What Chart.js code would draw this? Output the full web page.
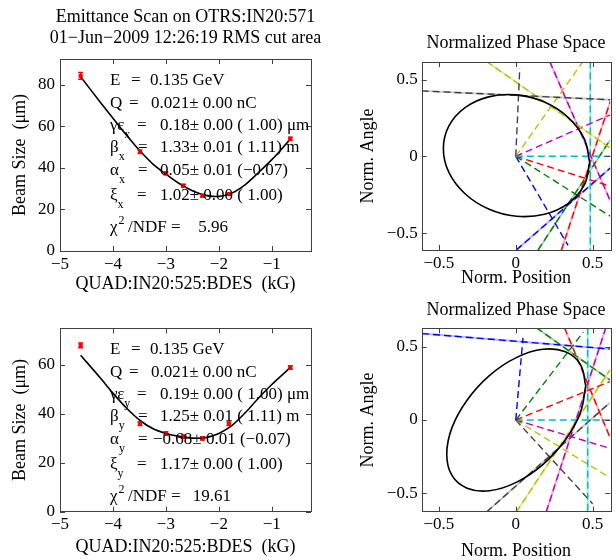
<!DOCTYPE html>
<html>
<head>
<meta charset="utf-8">
<script src="https://cdn.jsdelivr.net/npm/chart.js@4.4.0/dist/chart.umd.min.js"></script>
<style>
  html, body { margin: 0; padding: 0; background: #fff; overflow: hidden; width: 616px; height: 560px; }
  .box { position: absolute; }
</style>
</head>
<body>
<div class="box" style="left:0;top:0;width:371px;height:295px"><canvas id="scanX"></canvas></div>
<div class="box" style="left:0;top:295px;width:371px;height:265px"><canvas id="scanY"></canvas></div>
<div class="box" style="left:348px;top:0;width:336px;height:295px"><canvas id="phaseX"></canvas></div>
<div class="box" style="left:348px;top:295px;width:336px;height:267px"><canvas id="phaseY"></canvas></div>
<script>
'use strict'

var SERIF = '"Liberation Serif", "Times New Roman", serif'

// quad scan measurements
var quadVals = [-4.61, -3.49, -3.0, -2.67, -2.31, -1.81, -0.65]
var sizeX = [84.4, 47.8, 37.4, 31.4, 26.6, 27.4, 54.1]
var errX = [1.6, 0.8, 0.7, 0.7, 0.6, 0.6, 0.7]
var sizeY = [68, 36, 32, 30.7, 30, 36, 59]
var errY = [1.0, 0.7, 0.7, 0.7, 0.7, 0.7, 0.7]

// fitted curves
var fitQuad = [-4.61, -4.25, -4.0, -3.75, -3.5, -3.25, -3.0, -2.75, -2.5, -2.25, -2.0, -1.75, -1.5, -1.25, -1.0, -0.75, -0.65]
var fitX = [84, 72, 64, 56, 48.5, 42, 37, 32.5, 29, 26.8, 26.3, 28, 32, 37.8, 44, 51, 54]
var fitY = [64, 55, 48.5, 42.5, 37.5, 34, 32, 30.8, 30.1, 30.3, 32, 35.3, 40.5, 46.5, 52, 57, 59]

// normalized phase space, x plane
var ellXpos = [0.481, 0.445, 0.342, 0.187, 0.005, -0.177, -0.332, -0.435, -0.471, -0.435, -0.332, -0.177, 0.005, 0.187, 0.342, 0.445, 0.481]
var ellXang = [-0.040, 0.115, 0.252, 0.353, 0.400, 0.387, 0.316, 0.198, 0.050, -0.105, -0.242, -0.343, -0.390, -0.377, -0.306, -0.188, -0.040]
var colorsX = ['#404040', '#bfbf00', '#bf00bf', '#00bfbf', '#ff0000', '#008000', '#0000ff']
var paleX = ['#c8c8c8', '#e8e8a8', '#e8a8e8', '#a8e8e8', '#ffb4b4', '#a8d4a8', '#b4b4ff']
var rayXx = [0.026, 0.437, 0.615, 0.615, 0.615, 0.615, 0.34]
var rayXy = [0.574, 0.617, 0.27, 0, -0.195, -0.39, -0.58]
var cutXx1 = [-0.613, -0.19, 0.221, 0.485, 0.297, 0.145, 0.004]
var cutXy1 = [0.426, 0.617, 0.617, 0.617, -0.61, -0.61, -0.61]
var cutXx2 = [0.615, 0.615, 0.615, 0.485, 0.615, 0.615, 0.615]
var cutXy2 = [0.368, 0.054, -0.29, -0.61, 0.357, 0.108, -0.076]

// normalized phase space, y plane
var ellYpos = [0.455, 0.421, 0.323, 0.176, 0.003, -0.170, -0.317, -0.415, -0.449, -0.415, -0.317, -0.170, 0.003, 0.176, 0.323, 0.421, 0.455]
var ellYang = [0.233, 0.378, 0.465, 0.482, 0.425, 0.304, 0.135, -0.052, -0.233, -0.378, -0.465, -0.482, -0.425, -0.304, -0.135, 0.052, 0.233]
var colorsY = ['#0000ff', '#008000', '#ff0000', '#00bfbf', '#bf00bf', '#bfbf00', '#404040']
var paleY = ['#b4b4ff', '#a8d4a8', '#ffb4b4', '#a8e8e8', '#e8a8e8', '#e8e8a8', '#c8c8c8']
var rayYx = [0.047, 0.44, 0.612, 0.612, 0.612, 0.612, 0.5]
var rayYy = [0.56, 0.6, 0.262, 0, -0.193, -0.393, -0.571]
var cutYx1 = [-0.61, 0.134, 0.317, 0.468, 0.198, 0.004, -0.19]
var cutYy1 = [0.589, 0.629, 0.629, 0.629, -0.627, -0.627, -0.627]
var cutYx2 = [0.612, 0.612, 0.612, 0.468, 0.586, 0.612, 0.612]
var cutYy2 = [0.484, 0.273, -0.116, -0.627, 0.629, 0.34, 0.118]

// fit results printed inside the scan plots
var statsX = [
  { sym: 'E', eqX: 71, eq: '=', valX: 90, val: '0.135 GeV', dy: 26 },
  { sym: 'Q', eqX: 69, eq: '=', valX: 91, val: '0.021± 0.00 nC', dy: 49 },
  { sym: 'γε', sub: 'x', eqX: 77, eq: '=', valX: 100, val: '0.18± 0.00 ( 1.00) μm', dy: 71 },
  { sym: 'β', sub: 'x', eqX: 78, eq: '=', valX: 100, val: '1.33± 0.01 ( 1.11) m', dy: 93 },
  { sym: 'α', sub: 'x', eqX: 78, eq: '=', valX: 100, val: '0.05± 0.01 (−0.07)', dy: 116 },
  { sym: 'ξ', sub: 'x', eqX: 77, eq: '=', valX: 100, val: '1.02± 0.00 ( 1.00)', dy: 141 },
  { sym: 'χ', sup: '2', eqX: 68, eq: '/NDF =', valX: 168, val: '5.96', right: true, dy: 173 }
]
var statsY = [
  { sym: 'E', eqX: 71, eq: '=', valX: 90, val: '0.135 GeV', dy: 26 },
  { sym: 'Q', eqX: 69, eq: '=', valX: 91, val: '0.021± 0.00 nC', dy: 49 },
  { sym: 'γε', sub: 'y', eqX: 77, eq: '=', valX: 100, val: '0.19± 0.00 ( 1.00) μm', dy: 71 },
  { sym: 'β', sub: 'y', eqX: 78, eq: '=', valX: 100, val: '1.25± 0.01 ( 1.11) m', dy: 93 },
  { sym: 'α', sub: 'y', eqX: 78, eq: '=', valX: 93, val: '−0.68± 0.01 (−0.07)', dy: 116 },
  { sym: 'ξ', sub: 'y', eqX: 77, eq: '=', valX: 100, val: '1.17± 0.00 ( 1.00)', dy: 141 },
  { sym: 'χ', sup: '2', eqX: 68, eq: '/NDF =', valX: 171, val: '19.61', right: true, dy: 173 }
]

Chart.defaults.font.family = SERIF
Chart.defaults.font.size = 17
Chart.defaults.color = '#000'

var LABEL_FONT = { size: 18 }

function minus(v) { return String(v).replace('-', '\u2212') }
function pts(xs, ys) { return xs.map(function (x, i) { return { x: x, y: ys[i] } }) }

// box with inward ticks on all four sides (matlab look)
var framePlugin = {
  id: 'frame',
  afterDatasetsDraw: function (chart) {
    var a = chart.chartArea, ctx = chart.ctx
    var xs = chart.scales.x, ys = chart.scales.y, L = 5
    ctx.save()
    ctx.strokeStyle = '#404040'
    ctx.lineWidth = 1
    ctx.strokeRect(Math.round(a.left) + 0.5, Math.round(a.top) + 0.5, Math.round(a.right - a.left), Math.round(a.bottom - a.top))
    ctx.beginPath()
    xs.ticks.forEach(function (t) {
      var p = Math.round(xs.getPixelForValue(t.value)) + 0.5
      ctx.moveTo(p, a.bottom); ctx.lineTo(p, a.bottom - L)
      ctx.moveTo(p, a.top); ctx.lineTo(p, a.top + L)
    })
    ys.ticks.forEach(function (t) {
      var p = Math.round(ys.getPixelForValue(t.value)) + 0.5
      ctx.moveTo(a.left, p); ctx.lineTo(a.left + L, p)
      ctx.moveTo(a.right, p); ctx.lineTo(a.right - L, p)
    })
    ctx.stroke()
    ctx.restore()
  }
}

var errorBarPlugin = {
  id: 'errorBars',
  afterDatasetsDraw: function (chart) {
    var ctx = chart.ctx, xs = chart.scales.x, ys = chart.scales.y
    chart.data.datasets.forEach(function (ds) {
      if (!ds.errorBars) return
      ctx.save()
      ctx.strokeStyle = ds.borderColor
      ctx.lineWidth = 1.5
      ctx.beginPath()
      ds.data.forEach(function (p, i) {
        var px = xs.getPixelForValue(p.x), e = ds.errorBars[i]
        var y1 = ys.getPixelForValue(p.y - e), y2 = ys.getPixelForValue(p.y + e)
        ctx.moveTo(px, y1); ctx.lineTo(px, y2)
        ctx.moveTo(px - 2.5, y1); ctx.lineTo(px + 2.5, y1)
        ctx.moveTo(px - 2.5, y2); ctx.lineTo(px + 2.5, y2)
      })
      ctx.stroke()
      ctx.restore()
    })
  }
}

var fitTextPlugin = {
  id: 'fitText',
  afterDraw: function (chart, args, opts) {
    if (!opts.lines) return
    var a = chart.chartArea, ctx = chart.ctx
    ctx.save()
    ctx.fillStyle = '#000'
    ctx.textBaseline = 'alphabetic'
    opts.lines.forEach(function (ln) {
      var y = a.top + ln.dy, x = a.left + 50
      ctx.textAlign = 'left'
      ctx.font = '17px ' + SERIF
      ctx.fillText(ln.sym, x, y)
      x += ctx.measureText(ln.sym).width
      ctx.font = '12px ' + SERIF
      if (ln.sub) ctx.fillText(ln.sub, x, y + 8)
      if (ln.sup) ctx.fillText(ln.sup, x + 1, y - 8)
      ctx.font = '17px ' + SERIF
      ctx.fillText(ln.eq, a.left + ln.eqX, y)
      ctx.textAlign = ln.right ? 'right' : 'left'
      ctx.fillText(ln.val, a.left + ln.valX, y)
    })
    ctx.restore()
  }
}

// empty right-hand axis: keeps the title centred over the plot box
function spacer(w) {
  return {
    type: 'linear', position: 'right', display: true,
    grid: { display: false, drawTicks: false }, border: { display: false },
    ticks: { display: false },
    afterFit: function (s) { s.width = w }
  }
}

function scanChart(id, sizes, errs, fit, ymax, stats, padTop, xHeight, xTitlePad, title) {
  return new Chart(document.getElementById(id), {
    type: 'scatter',
    data: {
      datasets: [
        { data: pts(fitQuad, fit), showLine: true, borderColor: '#000', borderWidth: 1.6, pointRadius: 0, tension: 0.3 },
        { data: pts(quadVals, sizes), pointStyle: 'rect', pointRadius: 2.2, backgroundColor: '#ff0000', borderColor: '#ff0000', errorBars: errs }
      ]
    },
    options: {
      responsive: true,
      maintainAspectRatio: false,
      animation: false,
      layout: { padding: { left: 0, right: 0, top: padTop, bottom: 0 } },
      plugins: {
        legend: { display: false },
        tooltip: { enabled: false },
        title: title,
        fitText: { lines: stats }
      },
      scales: {
        x: {
          type: 'linear', min: -5, max: -0.26,
          grid: { display: false, drawTicks: false }, border: { display: false },
          ticks: { stepSize: 1, includeBounds: false, padding: 3, maxRotation: 0, callback: minus },
          title: { display: true, text: 'QUAD:IN20:525:BDES  (kG)', font: LABEL_FONT, padding: { top: 0, bottom: xTitlePad } },
          afterFit: function (s) { s.height = xHeight }
        },
        y: {
          type: 'linear', min: 0, max: ymax,
          grid: { display: false, drawTicks: false }, border: { display: false },
          ticks: { stepSize: 20, includeBounds: false, padding: 5 },
          title: { display: true, text: 'Beam Size  (μm)', font: LABEL_FONT, padding: { top: 9.7, bottom: 0 } },
          afterFit: function (s) { s.width = 60 }
        },
        yr: spacer(60)
      }
    },
    plugins: [framePlugin, errorBarPlugin, fitTextPlugin]
  })
}

function phaseSets(ex, ey, colors, pales, rx, ry, x1, y1, x2, y2) {
  var dash = { showLine: true, borderWidth: 1.4, borderDash: [7, 4], pointRadius: 0 }
  var sets = [{ data: pts(ex, ey), showLine: true, borderColor: '#000', borderWidth: 1.6, pointRadius: 0, tension: 0.4 }]
  colors.forEach(function (c, i) {
    sets.push(Object.assign({ data: [{ x: 0, y: 0 }, { x: rx[i], y: ry[i] }], borderColor: c }, dash))
    sets.push(Object.assign({ data: [{ x: x1[i], y: y1[i] }, { x: x2[i], y: y2[i] }], borderColor: c }, dash))
  })
  pales.forEach(function (c, i) {
    sets.push({ data: [{ x: x1[i], y: y1[i] }, { x: x2[i], y: y2[i] }], showLine: true, borderColor: c, borderWidth: 2, pointRadius: 0 })
  })
  return sets
}

function phaseChart(id, sets, ylim, titlePad, xHeight, xTitlePad) {
  return new Chart(document.getElementById(id), {
    type: 'scatter',
    data: { datasets: sets },
    options: {
      responsive: true,
      maintainAspectRatio: false,
      animation: false,
      plugins: {
        legend: { display: false },
        tooltip: { enabled: false },
        title: { display: true, text: 'Normalized Phase Space', font: { weight: 'normal', size: 18, lineHeight: 1.2 }, padding: titlePad }
      },
      scales: {
        x: {
          type: 'linear', min: -0.612, max: 0.615,
          grid: { display: false, drawTicks: false }, border: { display: false },
          ticks: { stepSize: 0.5, includeBounds: false, padding: 3, maxRotation: 0, callback: minus },
          title: { display: true, text: 'Norm. Position', font: LABEL_FONT, padding: { top: 0, bottom: xTitlePad } },
          afterFit: function (s) { s.height = xHeight }
        },
        y: {
          type: 'linear', min: ylim[0], max: ylim[1],
          grid: { display: false, drawTicks: false }, border: { display: false },
          ticks: { stepSize: 0.5, includeBounds: false, padding: 4, callback: minus },
          title: { display: true, text: 'Norm. Angle', font: LABEL_FONT, padding: { top: 9.2, bottom: 0 } },
          afterFit: function (s) { s.width = 73.7 }
        },
        yr: spacer(73.7)
      }
    },
    plugins: [framePlugin]
  })
}

scanChart('scanX', sizeX, errX, fitX, 92.5, statsX, 0, 44, 0.2, {
  display: true,
  text: ['Emittance Scan on OTRS:IN20:571', '01\u2212Jun\u22122009 12:26:19 RMS cut area'],
  font: { weight: 'normal', size: 18, lineHeight: 21 / 18 },
  padding: { top: 6.5, bottom: 10.5 }
})
scanChart('scanY', sizeY, errY, fitY, 75, statsY, 33.3, 48.3, 2.2, { display: false })

phaseChart('phaseX', phaseSets(ellXpos, ellXang, colorsX, paleX, rayXx, rayXy, cutXx1, cutXy1, cutXx2, cutXy2),
  [-0.61, 0.614], { top: 32.2, bottom: 8.2 }, 45, 6.2)
phaseChart('phaseY', phaseSets(ellYpos, ellYang, colorsY, paleY, rayYx, rayYy, cutYx1, cutYy1, cutYx2, cutYy2),
  [-0.625, 0.625], { top: 4.2, bottom: 7.5 }, 50.3, 0)
</script>
</body>
</html>
